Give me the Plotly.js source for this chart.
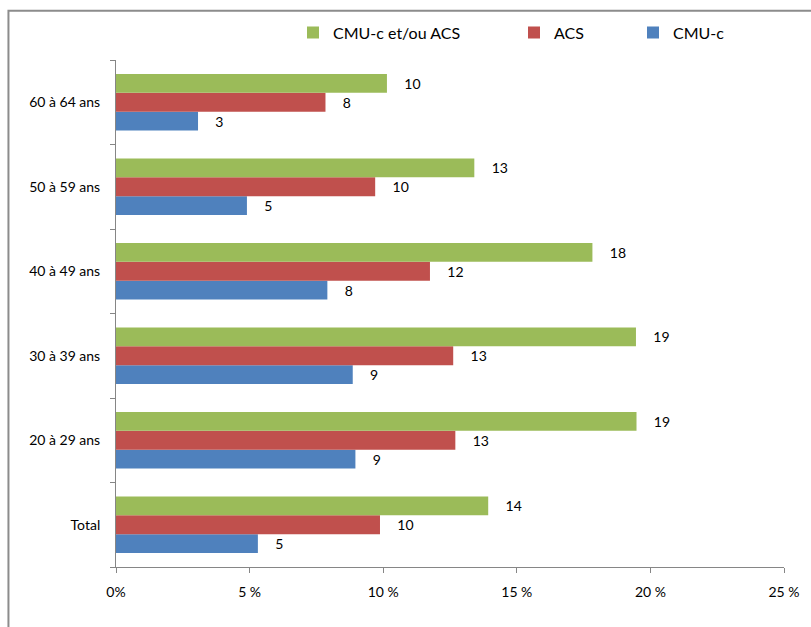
<!DOCTYPE html>
<html>
<head>
<meta charset="utf-8">
<script src="https://cdn.plot.ly/plotly-3.0.1.min.js"></script>
<style>
html,body{margin:0;padding:0;background:#fff;}
#chart{width:811px;height:627px;}
</style>
</head>
<body>
<div id="chart"></div>
<script>
const categories = ["Total", "20 à 29 ans", "30 à 39 ans", "40 à 49 ans", "50 à 59 ans", "60 à 64 ans"];
const cmuc = [5.31, 8.96, 8.86, 7.91, 4.90, 3.07];
const acs = [9.88, 12.70, 12.62, 11.75, 9.70, 7.84];
const cmucOuAcs = [13.93, 19.48, 19.46, 17.83, 13.41, 10.14];
const xTickVals = [0, 5, 10, 15, 20, 25];
const xTickText = ["0%", "5 %", "10 %", "15 %", "20 %", "25 %"];

const FONT = "Lato, 'Open Sans', sans-serif";
const pad = "\u00a0\u00a0\u00a0\u00a0";

function mk(name, vals, color, legend) {
  return {
    type: "bar", orientation: "h", name: name, y: categories, x: vals,
    marker: {color: color, line: {width: 0}},
    texttemplate: pad + "%{x:.0f}", textposition: "outside",
    textfont: {family: FONT, size: 14, color: "#000"},
    cliponaxis: false, hoverinfo: "none", legend: legend
  };
}

const data = [
  mk("CMU-c", cmuc, "#4F81BD", "legend3"),
  mk("ACS", acs, "#C0504D", "legend2"),
  mk("CMU-c et/ou ACS", cmucOuAcs, "#9BBB59", "legend")
];

const legBase = {orientation: "h", yanchor: "middle", y: 1.054, xanchor: "left",
  font: {family: FONT, size: 16, color: "#000"}, bgcolor: "rgba(0,0,0,0)", itemwidth: 30};

const layout = {
  width: 811, height: 627,
  margin: {l: 116, r: 27, t: 60, b: 60},
  paper_bgcolor: "#fff", plot_bgcolor: "#fff",
  font: {family: FONT, size: 14, color: "#000"},
  barmode: "group", bargap: 0.333, bargroupgap: 0,
  xaxis: {
    range: [0, 25], tickvals: xTickVals, ticktext: xTickText,
    showgrid: false, zeroline: false, showline: true, linecolor: "#868686", linewidth: 1,
    ticks: "outside", ticklen: 5, tickcolor: "#868686",
    tickfont: {family: FONT, size: 14, color: "#000"}, ticklabelstandoff: 7
  },
  yaxis: {
    type: "category", showgrid: false, zeroline: false, showline: true,
    linecolor: "#868686", linewidth: 1,
    ticks: "outside", ticklen: 5, tickcolor: "#868686", tickson: "boundaries",
    tickfont: {family: FONT, size: 14, color: "#000"}, ticklabelstandoff: 12
  },
  showlegend: true,
  legend: Object.assign({}, legBase),
  legend2: Object.assign({}, legBase),
  legend3: Object.assign({}, legBase),
  shapes: [{
    type: "rect", xref: "paper", yref: "paper",
    x0: -0.161, x1: 1.1, y0: -0.2, y1: 1.097,
    line: {color: "#8c8c8c", width: 2}, fillcolor: "rgba(0,0,0,0)", layer: "below"
  }]
};
layout.legend.x = (313 - 116 - 20) / 668;
layout.legend2.x = (534 - 116 - 20) / 668;
layout.legend3.x = (653 - 116 - 20) / 668;

Plotly.newPlot("chart", data, layout, {displayModeBar: false, staticPlot: true});
</script>
</body>
</html>
